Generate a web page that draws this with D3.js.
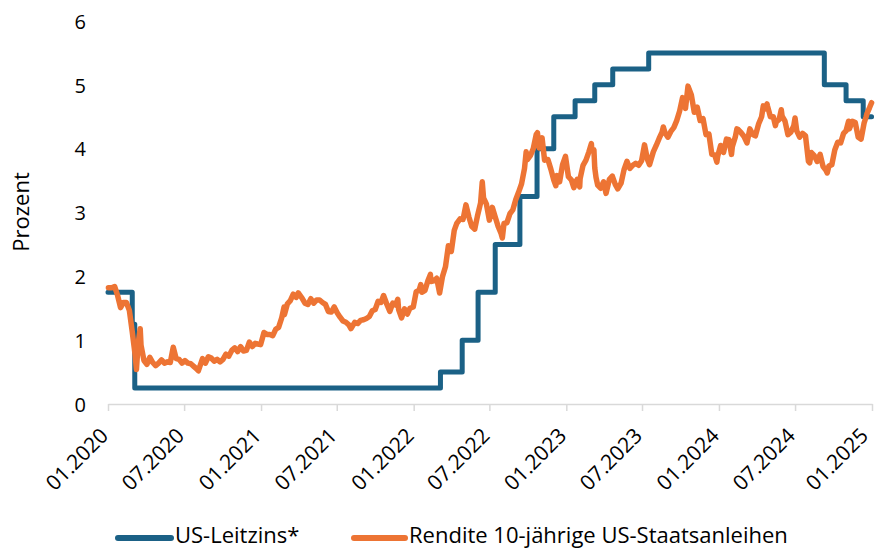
<!DOCTYPE html>
<html><head><meta charset="utf-8">
<script src="https://cdn.jsdelivr.net/npm/d3@7"></script>
<style>body{margin:0;background:#fff}svg{display:block}text{font-family:"Open Sans","Liberation Sans",sans-serif;fill:#000}</style>
</head><body><svg id="c" width="876" height="548"></svg>
<script>
// Tick labels
const xTickLabels = ["01.2020","07.2020","01.2021","07.2021","01.2022","07.2022","01.2023","07.2023","01.2024","07.2024","01.2025"];
const yTicks = [0,1,2,3,4,5,6];
const seriesNames = ["US-Leitzins*","Rendite 10-jährige US-Staatsanleihen"];

// US-Leitzins (step dates, values)
const rateDates = ["2020-01-01","2020-02-28","2020-03-05","2022-03-06","2022-04-27","2022-06-04","2022-07-15","2022-09-12","2022-10-23","2022-12-02","2023-01-22","2023-03-10","2023-04-22","2023-07-17","2024-09-09","2024-10-31","2024-12-11","2024-12-31"];
const rateValues = [1.75,1.25,0.25,0.5,1.0,1.75,2.5,3.25,4.0,4.5,4.75,5.0,5.25,5.5,5.0,4.75,4.5,4.5];

// Rendite 10-jährige US-Staatsanleihen
const yieldDates = [
"2020-01-02","2020-01-10","2020-01-17","2020-01-24","2020-01-31","2020-02-07","2020-02-14","2020-02-21","2020-02-28","2020-03-06","2020-03-09","2020-03-13","2020-03-18","2020-03-20","2020-03-27","2020-04-03","2020-04-10","2020-04-17","2020-04-24","2020-05-01","2020-05-08","2020-05-15","2020-05-22","2020-05-29","2020-06-05","2020-06-12","2020-06-19","2020-06-26","2020-07-03","2020-07-10","2020-07-17","2020-07-24","2020-07-31","2020-08-04","2020-08-14","2020-08-21","2020-08-28","2020-09-04","2020-09-11","2020-09-18","2020-09-25","2020-10-02","2020-10-09","2020-10-16","2020-10-23","2020-10-30","2020-11-06","2020-11-13","2020-11-20","2020-11-27","2020-12-04","2020-12-11","2020-12-18","2020-12-24","2020-12-31",
"2021-01-08","2021-01-15","2021-01-22","2021-01-29","2021-02-05","2021-02-12","2021-02-19","2021-02-25","2021-02-26","2021-03-05","2021-03-12","2021-03-19","2021-03-26","2021-03-31","2021-04-09","2021-04-16","2021-04-23","2021-04-30","2021-05-07","2021-05-14","2021-05-21","2021-05-28","2021-06-04","2021-06-11","2021-06-18","2021-06-25","2021-07-02","2021-07-09","2021-07-16","2021-07-23","2021-07-30","2021-08-04","2021-08-13","2021-08-20","2021-08-27","2021-09-03","2021-09-10","2021-09-17","2021-09-24","2021-10-01","2021-10-08","2021-10-15","2021-10-21","2021-10-29","2021-11-05","2021-11-12","2021-11-19","2021-11-24","2021-11-26","2021-12-03","2021-12-10","2021-12-17","2021-12-23","2021-12-31",
"2022-01-07","2022-01-14","2022-01-18","2022-01-21","2022-01-28","2022-02-04","2022-02-10","2022-02-11","2022-02-18","2022-02-25","2022-03-04","2022-03-11","2022-03-18","2022-03-25","2022-04-01","2022-04-08","2022-04-14","2022-04-22","2022-04-29","2022-05-06","2022-05-13","2022-05-20","2022-05-27","2022-06-03","2022-06-10","2022-06-14","2022-06-17","2022-06-24","2022-07-01","2022-07-08","2022-07-15","2022-07-22","2022-07-29","2022-08-01","2022-08-05","2022-08-12","2022-08-19","2022-08-26","2022-09-02","2022-09-09","2022-09-16","2022-09-23","2022-09-27","2022-09-30","2022-10-07","2022-10-14","2022-10-21","2022-10-24","2022-10-28","2022-11-04","2022-11-10","2022-11-18","2022-11-25","2022-12-02","2022-12-07","2022-12-09","2022-12-16","2022-12-23","2022-12-30",
"2023-01-06","2023-01-13","2023-01-19","2023-01-27","2023-02-02","2023-02-03","2023-02-10","2023-02-17","2023-02-24","2023-03-02","2023-03-03","2023-03-08","2023-03-10","2023-03-13","2023-03-17","2023-03-24","2023-03-31","2023-04-06","2023-04-14","2023-04-21","2023-04-28","2023-05-04","2023-05-12","2023-05-19","2023-05-26","2023-06-02","2023-06-09","2023-06-16","2023-06-23","2023-06-30","2023-07-07","2023-07-14","2023-07-19","2023-07-28","2023-08-04","2023-08-11","2023-08-18","2023-08-21","2023-08-25","2023-09-01","2023-09-08","2023-09-15","2023-09-22","2023-09-29","2023-10-06","2023-10-13","2023-10-19","2023-10-27","2023-11-03","2023-11-10","2023-11-17","2023-11-24","2023-12-01","2023-12-08","2023-12-15","2023-12-22","2023-12-27","2023-12-29",
"2024-01-05","2024-01-12","2024-01-19","2024-01-25","2024-01-31","2024-02-02","2024-02-09","2024-02-13","2024-02-16","2024-02-23","2024-03-01","2024-03-08","2024-03-15","2024-03-22","2024-03-28","2024-04-05","2024-04-12","2024-04-16","2024-04-19","2024-04-25","2024-04-26","2024-05-03","2024-05-10","2024-05-15","2024-05-17","2024-05-24","2024-05-29","2024-05-31","2024-06-07","2024-06-14","2024-06-21","2024-06-28","2024-07-01","2024-07-05","2024-07-12","2024-07-19","2024-07-26","2024-08-02","2024-08-05","2024-08-09","2024-08-16","2024-08-23","2024-08-30","2024-09-06","2024-09-13","2024-09-16","2024-09-20","2024-09-27","2024-10-04","2024-10-11","2024-10-18","2024-10-25","2024-10-31","2024-11-06","2024-11-08","2024-11-15","2024-11-22","2024-11-29","2024-12-06","2024-12-13","2024-12-18","2024-12-20","2024-12-26","2024-12-31"];
const yieldValues = [
1.82,1.82,1.84,1.70,1.51,1.59,1.59,1.47,1.13,0.76,0.54,0.94,1.18,0.92,0.68,0.62,0.73,0.65,0.60,0.64,0.69,0.64,0.66,0.65,0.89,0.71,0.70,0.64,0.68,0.64,0.63,0.59,0.55,0.52,0.71,0.64,0.74,0.72,0.67,0.70,0.66,0.70,0.78,0.75,0.84,0.88,0.82,0.90,0.83,0.84,0.97,0.90,0.95,0.94,0.93,
1.12,1.09,1.09,1.07,1.17,1.20,1.34,1.52,1.40,1.57,1.62,1.72,1.67,1.74,1.66,1.58,1.56,1.65,1.58,1.63,1.63,1.59,1.56,1.45,1.44,1.52,1.43,1.36,1.30,1.28,1.24,1.18,1.28,1.26,1.31,1.32,1.34,1.37,1.46,1.48,1.61,1.59,1.70,1.56,1.45,1.58,1.55,1.64,1.48,1.35,1.49,1.41,1.50,1.52,
1.76,1.78,1.87,1.75,1.78,1.93,2.03,1.92,1.93,1.97,1.74,2.00,2.15,2.48,2.39,2.72,2.83,2.90,2.89,3.12,2.93,2.78,2.74,2.96,3.15,3.48,3.23,3.13,2.88,3.08,2.93,2.78,2.67,2.60,2.83,2.84,2.98,3.04,3.20,3.32,3.45,3.69,3.95,3.83,3.89,4.00,4.22,4.25,4.01,4.17,3.82,3.83,3.68,3.51,3.42,3.58,3.48,3.75,3.88,
3.56,3.51,3.39,3.52,3.40,3.53,3.74,3.82,3.95,4.08,3.97,3.98,3.70,3.55,3.43,3.38,3.48,3.30,3.52,3.57,3.44,3.37,3.46,3.67,3.80,3.69,3.74,3.77,3.74,3.81,4.06,3.83,3.75,3.95,4.05,4.16,4.26,4.34,4.25,4.18,4.27,4.33,4.44,4.59,4.80,4.63,4.98,4.84,4.57,4.65,4.44,4.47,4.22,4.23,3.91,3.90,3.79,3.88,
4.05,3.94,4.15,4.14,3.91,4.03,4.18,4.31,4.30,4.25,4.19,4.09,4.31,4.22,4.20,4.39,4.50,4.67,4.62,4.70,4.67,4.50,4.50,4.36,4.42,4.46,4.61,4.51,4.43,4.22,4.26,4.36,4.48,4.28,4.18,4.24,4.20,3.80,3.78,3.94,3.89,3.80,3.91,3.72,3.66,3.62,3.73,3.75,3.98,4.10,4.09,4.24,4.28,4.43,4.31,4.43,4.41,4.18,4.15,4.40,4.50,4.55,4.64,4.72];

const parse = d3.timeParse("%Y-%m-%d");
const tickDates = xTickLabels.map(s => { const [m,y] = s.split("."); return new Date(+y, +m-1, 1); });
const rate = rateDates.map((d,i)=>({d:parse(d), v:rateValues[i]}));
const yld = yieldDates.map((d,i)=>({d:parse(d), v:yieldValues[i]}));

const svg = d3.select("#c");
const x = d3.scaleTime().domain([tickDates[0], tickDates[tickDates.length-1]]).range([108, 872]);
const y = d3.scaleLinear().domain([0,6]).range([404, 21]);
const blue = "#1b6186", orange = "#ed7434";
const FONT = '"Open Sans","Liberation Sans",sans-serif';

// Y axis labels
const yAxis = d3.axisLeft(y).tickValues(yTicks).tickSize(0).tickPadding(0).tickFormat(d3.format("d"));
const gy = svg.append("g").attr("transform","translate(86,0)").call(yAxis);
gy.select(".domain").remove();
gy.selectAll("text").attr("font-size",20).attr("font-family",FONT).attr("fill","#000").attr("dy","0.36em");

// X axis
const xAxis = d3.axisBottom(x).tickValues(tickDates).tickSize(7).tickSizeOuter(0).tickFormat((d,i)=>xTickLabels[i]);
const gx = svg.append("g").attr("transform","translate(0,404)").call(xAxis);
gx.select(".domain").attr("stroke","#d9d9d9").attr("stroke-width",1.5);
gx.selectAll(".tick line").attr("stroke","#d9d9d9").attr("stroke-width",1.5);
const nT = xTickLabels.length;
gx.selectAll("text").attr("font-size",21).attr("font-family",FONT).attr("fill","#000")
  .attr("text-anchor","end").attr("dy",0).attr("y",0)
  .attr("transform",(d,i)=> i===nT-1 ? "translate(-3,33) rotate(-45)" : "translate(1,33) rotate(-45)");

// Y title
svg.append("text").attr("transform","translate(29,212) rotate(-90)").attr("text-anchor","middle")
  .attr("font-size",22).text("Prozent");

// Lines
svg.append("path").datum(rate).attr("fill","none").attr("stroke",blue).attr("stroke-width",5)
  .attr("stroke-linejoin","round").attr("stroke-linecap","round")
  .attr("d", d3.line().curve(d3.curveStepAfter).x(d=>x(d.d)).y(d=>y(d.v)));
svg.append("path").datum(yld).attr("fill","none").attr("stroke",orange).attr("stroke-width",5.5)
  .attr("stroke-linejoin","round").attr("stroke-linecap","round")
  .attr("d", d3.line().x(d=>x(d.d)).y(d=>y(d.v)));

// Legend
const leg = [{c:blue,x1:118,x2:171,tx:175,t:seriesNames[0]},{c:orange,x1:354,x2:405,tx:409,t:seriesNames[1]}];
leg.forEach(l=>{
  svg.append("line").attr("x1",l.x1).attr("x2",l.x2).attr("y1",538).attr("y2",538).attr("stroke",l.c).attr("stroke-width",6).attr("stroke-linecap","round");
  svg.append("text").attr("x",l.tx).attr("y",543).attr("font-size",22).text(l.t);
});
</script></body></html>
